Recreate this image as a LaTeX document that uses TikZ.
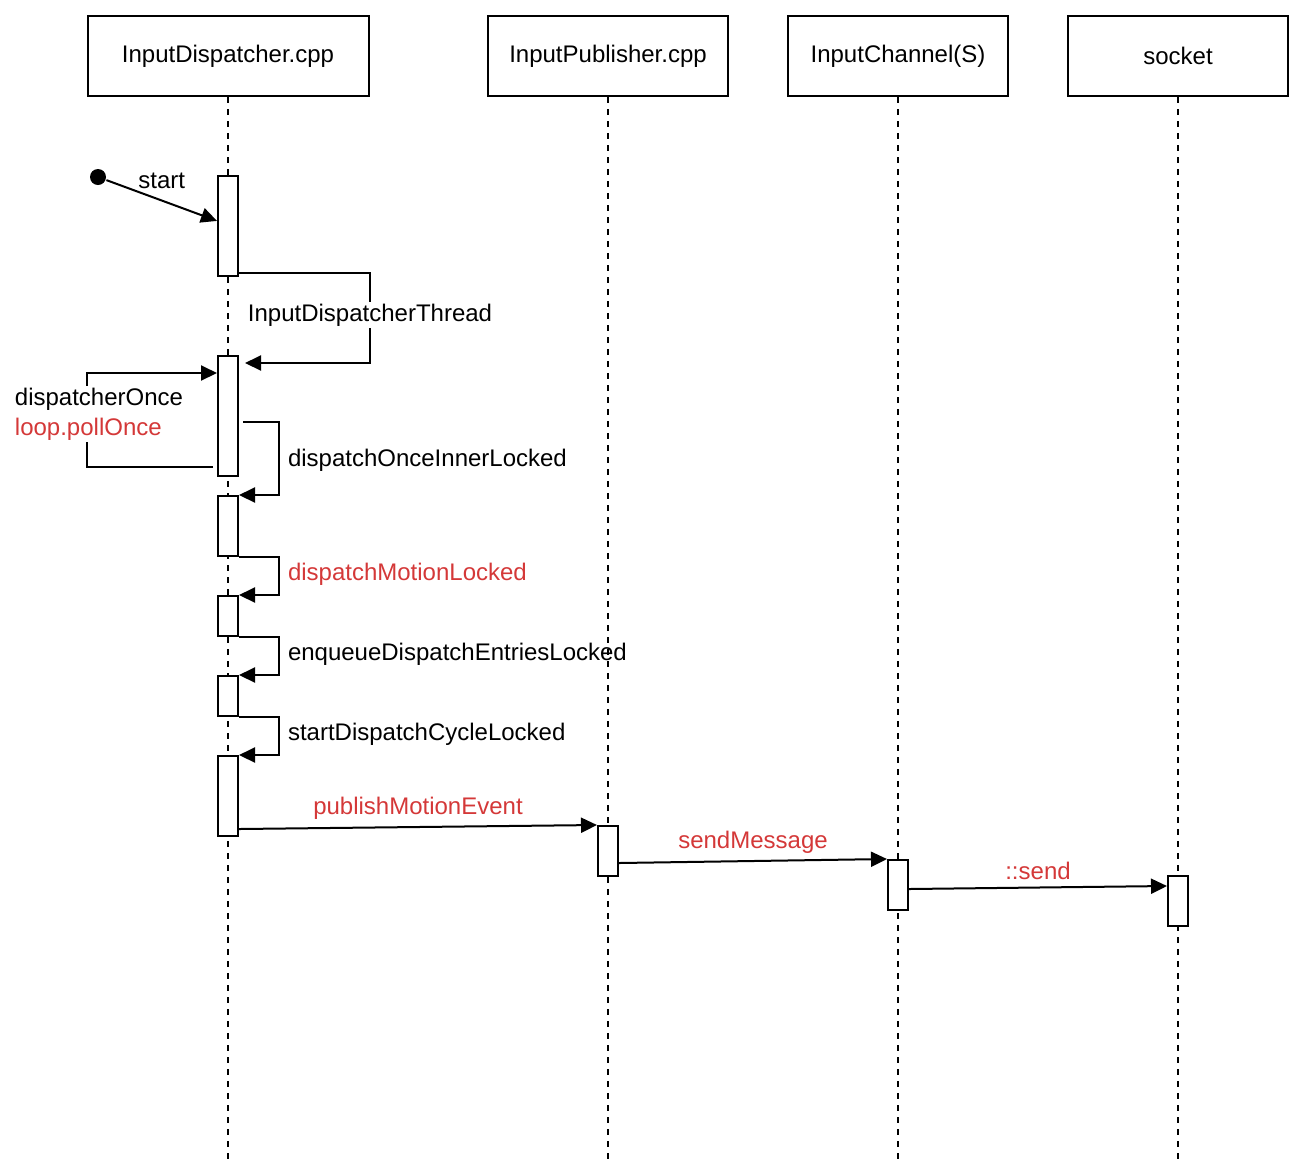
\documentclass[tikz,border=0pt]{standalone}
\usepackage{fontspec}
\setmainfont{Liberation Sans}
\usetikzlibrary{positioning,arrows.meta,calc}
\definecolor{callred}{RGB}{212,56,56}

\begin{document}
\begin{tikzpicture}[
    x=0.5pt, y=-0.5pt,
    >={Triangle[length=8pt,width=7.5pt]},
    line width=1pt,
    font=\fontsize{12}{15}\selectfont,
    head/.style={
        rectangle,
        draw,
        minimum height=40pt,
        inner sep=0pt
    },
    bar/.style={rectangle, draw, fill=white, minimum width=10pt, inner sep=0pt},
    life/.style={dash pattern=on 3pt off 3pt, line width=0.9pt},
    lbl/.style={fill=white, inner sep=1pt},
    side/.style={anchor=west, xshift=4pt, inner sep=0pt}
]
\useasboundingbox (0,0) rectangle (1305,1174);

% participants
\node[head, minimum width=140.5pt] (disp) at (228,56) {InputDispatcher.cpp};
\node[head, minimum width=120pt] (pub) at (608,56) {InputPublisher.cpp};
\node[head, minimum width=110pt] (chan) at (898,56) {InputChannel(S)};
\node[head, minimum width=110pt] (sock) at (1178,56) {socket};

% lifelines
\coordinate (dispend) at (228,1160);
\coordinate (pubend) at (608,1160);
\coordinate (chanend) at (898,1160);
\coordinate (sockend) at (1178,1160);
\draw[life] (disp.south) -- (dispend);
\draw[life] (pub.south) -- (pubend);
\draw[life] (chan.south) -- (chanend);
\draw[life] (sock.south) -- (sockend);

% activation bars
\node[bar, minimum height=50pt] (a1) at (228,226) {};
\node[bar, minimum height=60pt] (a2) at (228,416) {};
\node[bar, minimum height=30pt] (a3) at (228,526) {};
\node[bar, minimum height=20pt] (a4) at (228,616) {};
\node[bar, minimum height=20pt] (a5) at (228,696) {};
\node[bar, minimum height=40pt] (a6) at (228,796) {};
\node[bar, minimum height=25pt] (b1) at (608,851) {};
\node[bar, minimum height=25pt] (c1) at (898,885) {};
\node[bar, minimum height=25pt] (d1) at (1178,901) {};

% start
\node[circle, fill, inner sep=0pt, minimum size=8pt] (start) at (98,177) {};
\draw[->] (start) -- node[lbl, pos=0.5, yshift=10pt] {start} ($(a1.north west)!0.45!(a1.south west)$);

% thread hand-off
\draw[->] ($(a1.south east)+(0,-4)$) -| node[lbl, pos=0.75, yshift=1.5pt] {InputDispatcherThread}
    ($(a2.north east)+(131,8)$) -- ($(a2.north east)+(6,8)$);

% loop
\draw[->] ($(a2.south west)+(-4,-10)$) -| node[lbl, pos=0.75, align=left, xshift=6pt, yshift=3pt]
    {dispatcherOnce\\\textcolor{callred}{loop.pollOnce}}
    ($(a2.north west)+(-130,18)$) -- ($(a2.north west)+(0,18)$);

% self calls
\draw[->] ($(a2.east)+(4,6)$) -| node[side, pos=0.75, yshift=-1pt] {dispatchOnceInnerLocked}
    ($(a3.north east)+(40,0)$) -- (a3.north east);
\draw[->] (a3.south east) -| node[side, pos=0.75, yshift=1pt, text=callred] {dispatchMotionLocked}
    ($(a4.north east)+(40,0)$) -- (a4.north east);
\draw[->] (a4.south east) -| node[side, pos=0.75, yshift=1pt] {enqueueDispatchEntriesLocked}
    ($(a5.north east)+(40,0)$) -- (a5.north east);
\draw[->] (a5.south east) -| node[side, pos=0.75, yshift=1pt] {startDispatchCycleLocked}
    ($(a6.north east)+(40,0)$) -- (a6.north east);

% messages
\draw[->] ($(a6.south east)+(0,-8)$) -- node[above, text=callred] {publishMotionEvent} (b1.north west);
\draw[->] ($(b1.east)+(0,12)$) -- node[above, text=callred] {sendMessage} (c1.north west);
\draw[->] ($(c1.east)+(0,4)$) -- node[above, text=callred] {::send} ($(d1.west)+(0,-15)$);

\end{tikzpicture}
\end{document}
